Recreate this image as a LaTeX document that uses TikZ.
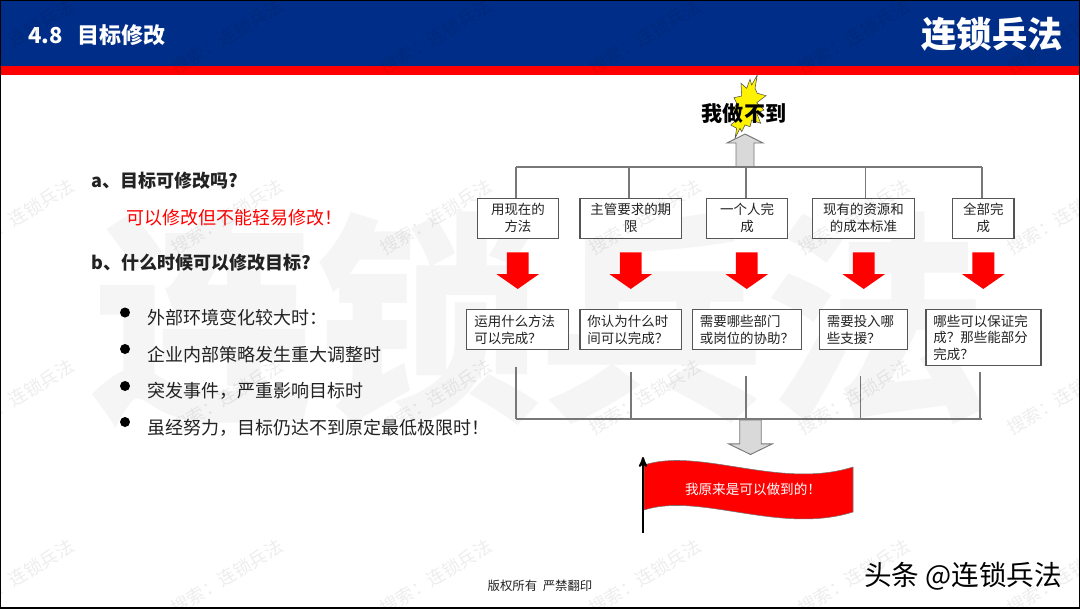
\documentclass[tikz,border=0pt]{standalone}
\usepackage{fontspec}
\setmainfont{Noto Sans CJK SC}
\usetikzlibrary{arrows,shapes.arrows}
\definecolor{headblue}{RGB}{0,45,135}
\definecolor{linegray}{RGB}{120,120,120}
\definecolor{boxgray}{RGB}{85,85,85}
\definecolor{inkgray}{RGB}{34,34,34}
\definecolor{markgray}{RGB}{245,245,245}

\begin{document}
\begin{tikzpicture}[x=0.75pt,y=-0.75pt,>=stealth',inner sep=0pt,text=inkgray]
\tikzstyle{askbox}=[draw=boxgray,fill=white,line width=0.9pt,anchor=north west,font=\fontsize{10.1}{12.4}\selectfont,align=center]
\tikzstyle{howbox}=[askbox,align=left]
\tikzstyle{stem}=[draw=linegray,line width=1pt]
\tikzstyle{redarrow}=[single arrow,shape border rotate=270,anchor=tip,fill=red,inner ysep=0pt,inner xsep=8pt,minimum height=27.5pt,single arrow head extend=7.7pt,single arrow tip angle=110]
\tikzstyle{grayarrow}=[single arrow,anchor=tip,fill=black!15,draw=linegray,line width=0.7pt,inner ysep=0pt]
\tikzstyle{headtext}=[anchor=west,text=white,font=\fontsize{16.5}{20}\selectfont\bfseries]
\tikzstyle{sidehead}=[anchor=west,font=\fontsize{13.5}{16}\selectfont\bfseries]
\tikzstyle{sidetext}=[anchor=west,font=\fontsize{13.5}{16}\selectfont]
\tikzstyle{dot}=[circle,fill=black,minimum size=7.5pt]
\tikzstyle{tinymark}=[text=black,text opacity=0.07,rotate=31,font=\fontsize{13.5}{16}\selectfont]

\useasboundingbox (0,0) rectangle (1080,608);
\fill[white] (0,0) rectangle (1080,608);
\node[text=markgray,font=\fontsize{168}{170}\selectfont\bfseries] (bigmark) at (540,320) {连锁兵法};

% header
\fill[headblue] (0,0) rectangle (1080,66);
\fill[red] (0,66) rectangle (1080,75);
\node[headtext] (section) at (28,35.5) {4.8};
\node[headtext] (title) at (77,35.5) {目标修改};
\node[text=white,font=\fontsize{26.5}{30}\selectfont\bfseries] (brand) at (992,34) {连锁兵法};

% left side
\node[sidehead] (qa) at (91,181) {a、目标可修改吗?};
\node[sidetext,text=red] (ansa) at (126,218) {可以修改但不能轻易修改！};
\node[sidehead] (qb) at (91,263) {b、什么时候可以修改目标?};
\node[dot] (d1) at (125,312.5) {};
\node[dot] (d2) at (125,349) {};
\node[dot] (d3) at (125,386) {};
\node[dot] (d4) at (125,422) {};
\node[sidetext] (t1) at (147,318) {外部环境变化较大时：};
\node[sidetext] (t2) at (147,355) {企业内部策略发生重大调整时};
\node[sidetext] (t3) at (147,391) {突发事件，严重影响目标时};
\node[sidetext] (t4) at (147,428) {虽经努力，目标仍达不到原定最低极限时！};

% top of the tree
\draw[fill=yellow,draw=black!70,line width=0.4pt] (735,138.3) -- (736.7,128.3) -- (730.7,125) -- (738.3,118.3) -- (733.3,110) -- (736.7,103.3) -- (734,97.7) -- (741.7,96) -- (741,83.3) -- (746.7,88.3) -- (750,79.3) -- (751.7,85) -- (757.3,75) -- (755,88.3) -- (757.3,93.3) -- (766,95.7) -- (756.7,102.7) -- (764,110) -- (756.7,113.3) -- (760.7,123.3) -- (751.7,120) -- (750,126.7) -- (745,125) -- (741.7,131.7) -- (740,128.3) -- cycle;
\node[text=black,font=\fontsize{15.8}{18}\selectfont\bfseries] (cannot) at (744,114) {我做不到};
\node[grayarrow,shape border rotate=90,inner xsep=6.4pt,minimum height=25pt,single arrow head extend=6.75pt,single arrow tip angle=127] (up) at (745,133.5) {};

\coordinate (top1) at (516,167);
\coordinate (top2) at (629,167);
\coordinate (top3) at (746,167);
\coordinate (top4) at (865.5,167);
\coordinate (top5) at (982,167);

\node[askbox,minimum width=61pt,minimum height=30pt] (a1) at (476.7,197.5) {用现在的\\方法};
\node[askbox,minimum width=76.2pt,minimum height=30pt] (a2) at (579.4,197.5) {主管要求的期\\限};
\node[askbox,minimum width=60.7pt,minimum height=30pt] (a3) at (706.1,197.5) {一个人完\\成};
\node[askbox,minimum width=76.2pt,minimum height=30pt] (a4) at (812.1,197.5) {现有的资源和\\的成本标准};
\node[askbox,minimum width=46pt,minimum height=30pt] (a5) at (952.1,197.5) {全部完\\成};

\draw[stem] (top1) -- (top5);
\foreach \i in {1,...,5}
  \draw[stem] (top\i) -- (top\i |- a\i.north);

\node[redarrow] (r1) at (517.7,289.3) {};
\node[redarrow] (r2) at (630.7,289.3) {};
\node[redarrow] (r3) at (746.7,289.3) {};
\node[redarrow] (r4) at (863.7,289.3) {};
\node[redarrow] (r5) at (983.3,289.3) {};

\node[howbox,minimum width=76.5pt,minimum height=30.2pt,text width=65pt] (b1) at (466.1,309) {运用什么方法\\可以完成？};
\node[howbox,minimum width=76.2pt,minimum height=30.2pt,text width=65pt] (b2) at (579.4,309) {你认为什么时\\间可以完成？};
\node[howbox,minimum width=81.7pt,minimum height=30.2pt,text width=71pt] (b3) at (692.1,309) {需要哪些部门\\或岗位的协助？};
\node[howbox,minimum width=66.3pt,minimum height=30.2pt,text width=55pt] (b4) at (818.7,309) {需要投入哪\\些支援？};
\node[howbox,minimum width=86.2pt,minimum height=42pt,text width=75pt] (b5) at (925.4,309) {哪些可以保证完\\成？那些能部分\\完成？};

% bottom of the tree
\coordinate (foot1) at (516,366.7);
\coordinate (foot2) at (631,371.7);
\coordinate (foot3) at (746,376);
\coordinate (foot4) at (860.7,376);
\coordinate (foot5) at (980,371.7);
\coordinate (busl) at (516,419);
\coordinate (busr) at (982,419);
\draw[stem] (busl) -- (busr);
\foreach \i in {1,...,5}
  \draw[stem] (foot\i) -- (foot\i |- busl);
\node[grayarrow,shape border rotate=270,inner xsep=7.7pt,minimum height=26pt,single arrow head extend=8.2pt,single arrow tip angle=128] (down) at (750.5,455) {};

% flag
\draw[fill=red,draw=black!55,line width=0.4pt] (644,465) .. controls (700,447) and (780,490) .. (853,467) -- (853,512) .. controls (780,535) and (700,492) .. (644,510) -- cycle;
\coordinate (polefoot) at (643,533);
\coordinate (poletop) at (643,457);
\draw[->,black,line width=1.5pt] (polefoot) -- (poletop);
\node[text=white,font=\fontsize{10.2}{12}\selectfont] (flagtext) at (753,489) {我原来是可以做到的！};

% footer
\node[font=\fontsize{9.3}{12}\selectfont] (rights) at (540,586) {版权所有\ \ 严禁翻印};
\node[anchor=west,text=black,font=\fontsize{20.7}{24}\selectfont] (source) at (864,576) {头条 @连锁兵法};

% watermarks
\foreach \y in {37,217,397,577}
  \foreach \x in {18,227,436,645,854,1063}
    \node[tinymark] at (\x,\y) {搜索：连锁兵法};

\draw[black,line width=1.5pt] (0,0) rectangle (1080,608);
\end{tikzpicture}
\end{document}
